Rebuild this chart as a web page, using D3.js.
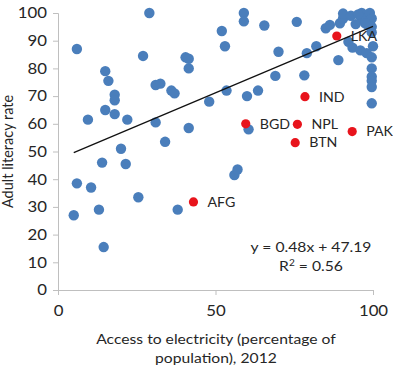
<!DOCTYPE html>
<html>
<head>
<meta charset="utf-8">
<script src="https://cdn.jsdelivr.net/npm/d3@7"></script>
<style>
  html, body { margin: 0; padding: 0; background: #fff; }
  svg { display: block; font-family: Lato, "Open Sans", sans-serif; }
</style>
</head>
<body>
<svg id="chart" width="393" height="371"></svg>
<script>
// electricity access (%) vs adult literacy rate (%) - other countries
const accessAll = [
  6, 29, 15, 16, 18, 18, 9.5, 15, 18, 22,
  27, 31, 32.5, 36, 37, 40.5, 41.5, 41.5, 31, 41.5,
  34, 20, 14, 21.5, 6, 10.5, 5, 13, 25.5, 14.5,
  38, 56, 57, 48, 53.5, 60, 63.5, 60.5, 59, 59,
  65.5, 52, 53, 75.8, 70, 69, 78.2, 79, 82, 85,
  86.3, 89.5, 90.5, 90.5, 89, 92.2, 93.5, 96, 96.4, 96.4,
  98, 99, 99.6, 98.5, 99.6, 99.6, 100, 98, 99.6, 99.6,
  99.6, 99.6, 99.6, 99.6, 93, 94.5, 95.3, 97.5
];
const literacyAll = [
  87, 100, 79, 75.5, 70.5, 68.5, 61.5, 65, 63.5, 61.5,
  84.5, 74, 74.5, 72, 71, 84, 83.5, 80, 60.5, 58.5,
  53.5, 51, 46, 45.5, 38.5, 37, 27, 29, 33.5, 15.5,
  29, 41.5, 43.5, 68, 72, 70, 72, 58, 100, 97,
  95.5, 93.5, 88, 96.8, 86, 77.3, 77.5, 85.5, 88, 94.5,
  95.7, 96.3, 98, 99.8, 83, 89.6, 87.5, 86.5, 100, 98,
  98, 100, 98, 95.5, 95, 93, 88, 85.5, 84, 80,
  77, 75.5, 73.3, 67.4, 99, 96, 99.5, 96.3
];

// South Asian countries, highlighted in red
const saCodes    = ["LKA", "IND", "BGD", "NPL", "BTN", "PAK", "AFG"];
const saAccess   = [88.5, 78.4, 59.6, 76, 75.3, 93.4, 43];
const saLiteracy = [91.7, 69.8, 60, 59.8, 53.2, 57.2, 31.8];

const xTicks = [0, 50, 100];
const yTicks = [0, 10, 20, 30, 40, 50, 60, 70, 80, 90, 100];

// trend line from the chart: y = 0.48x + 47.19
const slope = 0.48;
const intercept = 47.19;

const svg = d3.select("#chart");
const axisColor = "#bfbfbf";
const textColor = "#262626";

// the original picture is a bit stretched sideways, so horizontal text is widened
function widen(sel, origin, k = 1.12) {
  sel.style("transform-box", "fill-box")
    .style("transform-origin", `${origin} center`)
    .style("transform", `scaleX(${k})`);
}

const x = d3.scaleLinear().domain([0, 100]).range([58, 373]);
const y = d3.scaleLinear().domain([0, 100]).range([290, 13]);

// axes
const xAxis = svg.append("g")
  .attr("transform", `translate(0,${y(0)})`)
  .call(d3.axisBottom(x).tickValues(xTicks).tickSize(5).tickPadding(10));
const yAxis = svg.append("g")
  .attr("transform", `translate(${x(0)},0)`)
  .call(d3.axisLeft(y).tickValues(yTicks).tickSize(5).tickPadding(6));

[xAxis, yAxis].forEach(a => {
  a.select(".domain").attr("stroke", axisColor);
  a.selectAll(".tick line").attr("stroke", axisColor);
  a.selectAll(".tick text")
    .attr("fill", textColor)
    .style("font-size", "15px")
    .style("font-family", "Lato, 'Open Sans', sans-serif");
});
widen(xAxis.selectAll(".tick text"), "center");
widen(yAxis.selectAll(".tick text"), "right");

// blue points
const blue = accessAll.map((v, i) => ({ x: v, y: literacyAll[i] }));
svg.append("g").selectAll("circle")
  .data(blue)
  .join("circle")
  .attr("cx", d => x(d.x))
  .attr("cy", d => y(d.y))
  .attr("r", 5.2)
  .attr("fill", "#4a7ebb");

// red points
const red = saCodes.map((c, i) => ({ code: c, x: saAccess[i], y: saLiteracy[i] }));
svg.append("g").selectAll("circle")
  .data(red)
  .join("circle")
  .attr("cx", d => x(d.x))
  .attr("cy", d => y(d.y))
  .attr("r", 4.6)
  .attr("fill", "#e8141c");

// trend line
const xMin = d3.min(accessAll);
const xMax = d3.max(accessAll);
svg.append("line")
  .attr("x1", x(xMin)).attr("y1", y(slope * xMin + intercept))
  .attr("x2", x(xMax)).attr("y2", y(slope * xMax + intercept))
  .attr("stroke", "#111")
  .attr("stroke-width", 1.3);

// labels for red points
const labels = svg.append("g").selectAll("text")
  .data(red)
  .join("text")
  .attr("x", d => x(d.x) + 14)
  .attr("y", d => y(d.y))
  .attr("dy", "0.36em")
  .attr("fill", textColor)
  .style("font-size", "13.5px")
  .text(d => d.code);
widen(labels, "left", 1.05);

// equation
const eq = svg.append("text")
  .attr("x", 311).attr("y", 252)
  .attr("text-anchor", "middle")
  .attr("fill", textColor)
  .style("font-size", "14px")
  .text(`y = ${slope}x + ${intercept}`);
widen(eq, "center");
const r2 = svg.append("text")
  .attr("x", 311).attr("y", 271)
  .attr("text-anchor", "middle")
  .attr("fill", textColor)
  .style("font-size", "14px");
r2.append("tspan").text("R");
r2.append("tspan").attr("dy", -5).style("font-size", "9px").text("2");
r2.append("tspan").attr("dy", 5).text(" = 0.56");
widen(r2, "center");

// axis titles
const xTitle = svg.append("text")
  .attr("text-anchor", "middle")
  .attr("fill", textColor)
  .style("font-size", "14px");
xTitle.append("tspan").attr("x", 216).attr("y", 344).text("Access to electricity (percentage of");
xTitle.append("tspan").attr("x", 216).attr("y", 363).text("population), 2012");
widen(xTitle, "center");

svg.append("text")
  .attr("transform", `translate(13,${(y(0) + y(100)) / 2}) rotate(-90)`)
  .attr("text-anchor", "middle")
  .attr("fill", textColor)
  .style("font-size", "14.5px")
  .text("Adult literacy rate");
</script>
</body>
</html>
